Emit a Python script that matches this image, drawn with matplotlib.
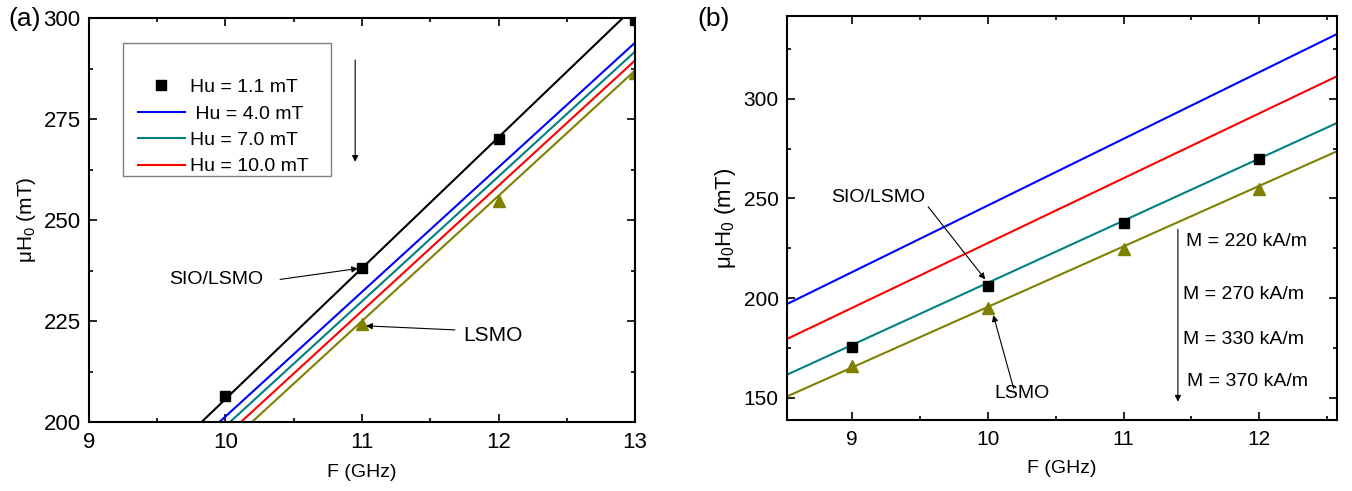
import matplotlib.pyplot as plt
from matplotlib.patches import Rectangle
from matplotlib.ticker import MultipleLocator

plt.rcParams['font.family'] = ['Liberation Sans', 'DejaVu Sans']
plt.rcParams['mathtext.default'] = 'regular'

# ---- panel (a): different Hu ----
fa_line = [9.8, 13.0]
ha_black = [199.2, 302.9]
ha_blue = [195.2, 293.9]
ha_teal = [192.8, 291.7]
ha_red = [190.3, 289.5]
ha_olive = [187.8, 287.0]
fa_sq = [10, 11, 12, 13]
ha_sq = [206.5, 238.0, 270.0, 299.5]
fa_tri = [11, 12, 13]
ha_tri = [224.3, 254.7, 286.5]
hu_labels = ['Hu = 1.1 mT', ' Hu = 4.0 mT', 'Hu = 7.0 mT', 'Hu = 10.0 mT']

# ---- panel (b): different M ----
fb_line = [8.5, 12.6]
hb_blue = [196.3, 333.4]
hb_red = [178.8, 312.2]
hb_teal = [160.9, 288.7]
hb_olive = [150.0, 274.5]
fb_pts = [9, 10, 11, 12]
hb_sq = [175.3, 206.2, 237.8, 269.7]
hb_tri = [165.7, 195.0, 224.6, 254.9]
m_labels = ['M = 220 kA/m', 'M = 270 kA/m', 'M = 330 kA/m', 'M = 370 kA/m']

BLUE = '#0000ff'
TEAL = '#008080'
RED = '#ff0000'
OLIVE = '#808000'
arrow = dict(arrowstyle='-|>', color='k', lw=0.8, mutation_scale=9,
             shrinkA=0, shrinkB=0)

fig = plt.figure(figsize=(13.52, 4.91), dpi=100)
ax1 = fig.add_axes([0.0658, 0.1405, 0.4039, 0.8228])
ax2 = fig.add_axes([0.5821, 0.1446, 0.4066, 0.8228])

# (a)
ax1.plot(fa_line, ha_black, color='k', lw=1.5)
ax1.plot(fa_line, ha_blue, color=BLUE, lw=1.5, label=hu_labels[1])
ax1.plot(fa_line, ha_teal, color=TEAL, lw=1.5, label=hu_labels[2])
ax1.plot(fa_line, ha_red, color=RED, lw=1.5, label=hu_labels[3])
ax1.plot(fa_line, ha_olive, color=OLIVE, lw=1.5)
ax1.plot(fa_sq, ha_sq, 's', color='k', ms=7, label=hu_labels[0])
ax1.plot(fa_tri, ha_tri, '^', color=OLIVE, ms=8)
ax1.set_xlim(9, 13)
ax1.set_ylim(200, 300)
ax1.xaxis.set_major_locator(MultipleLocator(1))
ax1.xaxis.set_minor_locator(MultipleLocator(0.5))
ax1.yaxis.set_major_locator(MultipleLocator(25))
ax1.yaxis.set_minor_locator(MultipleLocator(12.5))
ax1.set_xlabel('F (GHz)', fontsize=14, labelpad=8)
ax1.set_ylabel('μH$_0$ (mT)', fontsize=15)

h, l = ax1.get_legend_handles_labels()
order = [3, 0, 1, 2]
ax1.legend([h[i] for i in order], [l[i] for i in order], loc='upper left',
           bbox_to_anchor=(0.0897, 0.850), frameon=False, borderpad=0,
           borderaxespad=0, handlelength=2.4, handletextpad=0.3,
           labelspacing=0.45, fontsize=14)
ax1.add_patch(Rectangle((0.0628, 0.610), 0.380, 0.327, transform=ax1.transAxes,
                        fill=False, ec='#808080', lw=1))
ax1.annotate('', xy=(10.95, 264.4), xytext=(10.95, 289.6), arrowprops=arrow)
ax1.text(9.935, 235.3, 'SIO/LSMO', ha='center', va='center', fontsize=14)
ax1.annotate('', xy=(10.97, 238.0), xytext=(10.40, 235.3), arrowprops=arrow)
ax1.text(11.96, 221.3, 'LSMO', ha='center', va='center', fontsize=15)
ax1.annotate('', xy=(11.03, 223.8), xytext=(11.68, 222.8), arrowprops=arrow)

# (b)
ax2.plot(fb_line, hb_blue, color=BLUE, lw=1.5)
ax2.plot(fb_line, hb_red, color=RED, lw=1.5)
ax2.plot(fb_line, hb_teal, color=TEAL, lw=1.5)
ax2.plot(fb_line, hb_olive, color=OLIVE, lw=1.5)
ax2.plot(fb_pts, hb_sq, 's', color='k', ms=7)
ax2.plot(fb_pts, hb_tri, '^', color=OLIVE, ms=8)
ax2.set_xlim(8.52, 12.57)
ax2.set_ylim(138.8, 341.5)
ax2.xaxis.set_major_locator(MultipleLocator(1))
ax2.xaxis.set_minor_locator(MultipleLocator(0.5))
ax2.yaxis.set_major_locator(MultipleLocator(50))
ax2.yaxis.set_minor_locator(MultipleLocator(25))
ax2.set_xlabel('F (GHz)', fontsize=14, labelpad=8)
ax2.set_ylabel('μ$_0$H$_0$ (mT)', fontsize=16)
ax2.text(9.19, 250.3, 'SIO/LSMO', ha='center', va='center', fontsize=14)
ax2.annotate('', xy=(9.98, 209.4), xytext=(9.56, 245.8), arrowprops=arrow)
ax2.text(10.25, 152.0, 'LSMO', ha='center', va='center', fontsize=14)
ax2.annotate('', xy=(10.04, 191.4), xytext=(10.19, 154.6), arrowprops=arrow)
for (x, y), t in zip([(11.46, 228.5), (11.44, 201.9), (11.44, 179.3),
                      (11.47, 158.2)], m_labels):
    ax2.text(x, y, t, ha='left', va='center', fontsize=14)
ax2.annotate('', xy=(11.40, 148.0), xytext=(11.40, 234.5), arrowprops=arrow)

for ax, ls in ((ax1, 16), (ax2, 15)):
    for s in ax.spines.values():
        s.set_linewidth(1.5)
    ax.tick_params(which='both', direction='in', top=True, right=True,
                   labelsize=ls, width=1.2)
    ax.tick_params(which='major', length=6)
    ax.tick_params(which='minor', length=3)
    ax.tick_params(axis='x', pad=7)
    ax.tick_params(axis='y', pad=6)

fig.text(0.006, 0.962, '(a)', fontsize=19, va='center')
fig.text(0.5155, 0.962, '(b)', fontsize=19, va='center')

fig.savefig('out.png', dpi=100)
